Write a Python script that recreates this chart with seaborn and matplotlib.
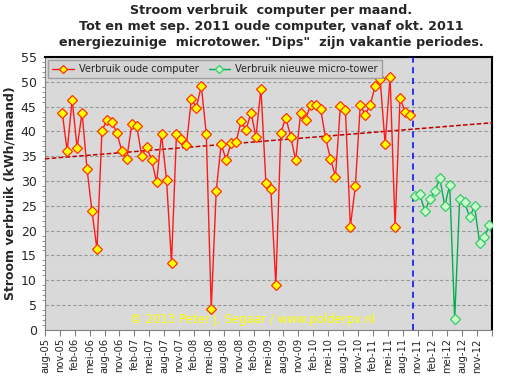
import numpy as np
import pandas as pd
import matplotlib
matplotlib.use("Agg")
import matplotlib.pyplot as plt
import seaborn as sns

# maandverbruik (kWh/maand), oude computer nov-05 t/m sep-11
oud_kwh = [43.8, 36.1, 46.4, 36.7, 43.8, 32.4, 23.9, 16.2, 40.1, 42.4,
           41.8, 39.7, 36.1, 34.5, 41.4, 41.1, 35.1, 36.9, 34.2, 29.8,
           39.4, 30.2, 13.5, 39.5, 38.5, 37.2, 46.6, 44.8, 49.2, 39.5,
           4.2, 28.0, 37.5, 34.2, 37.7, 37.9, 42.0, 40.3, 43.8, 38.9,
           48.6, 29.7, 28.4, 9.0, 39.7, 42.8, 38.9, 34.2, 43.8, 42.4,
           45.4, 45.4, 44.6, 38.7, 34.5, 30.9, 45.1, 44.4, 20.8, 28.9,
           45.4, 43.3, 45.4, 49.1, 50.5, 37.4, 51.0, 20.8, 46.8, 44.0,
           43.3]
# nieuwe micro-tower okt-11 t/m jan-13
nieuw_kwh = [26.9, 27.3, 23.9, 26.4, 27.9, 30.6, 25.0, 29.2, 2.2, 26.3,
             25.8, 22.7, 24.9, 17.6, 18.8, 21.1]

oud_start = 3      # nov-05, maanden na aug-05
nieuw_start = 74   # okt-11
tick_labels = ['aug-05', 'nov-05', 'feb-06', 'mei-06', 'aug-06', 'nov-06',
               'feb-07', 'mei-07', 'aug-07', 'nov-07', 'feb-08', 'mei-08',
               'aug-08', 'nov-08', 'feb-09', 'mei-09', 'aug-09', 'nov-09',
               'feb-10', 'mei-10', 'aug-10', 'nov-10', 'feb-11', 'mei-11',
               'aug-11', 'nov-11', 'feb-12', 'mei-12', 'aug-12', 'nov-12']

# data staat halverwege de maand
oud = pd.DataFrame({'maand': np.arange(len(oud_kwh)) + oud_start + 0.47, 'kwh': oud_kwh})
nieuw = pd.DataFrame({'maand': np.arange(len(nieuw_kwh)) + nieuw_start + 0.47, 'kwh': nieuw_kwh})

sns.set_style("white")
plt.rcParams['font.family'] = ['DejaVu Sans']

fig = plt.figure(figsize=(5.11, 3.80), dpi=100)
ax = fig.add_axes([0.088, 0.132, 0.875, 0.718])
ax.set_facecolor('#d9d9d9')

sns.lineplot(data=oud, x='maand', y='kwh', ax=ax, color='#ff1a1a', lw=1.0,
             marker='D', markersize=5.2, markerfacecolor='#ffff00',
             markeredgecolor='#ff3300', markeredgewidth=0.9,
             label='Verbruik oude computer', zorder=4)
sns.lineplot(data=nieuw, x='maand', y='kwh', ax=ax, color='#00b050', lw=1.0,
             marker='D', markersize=5.2, markerfacecolor='#ccffcc',
             markeredgecolor='#33cc66', markeredgewidth=0.9,
             label='Verbruik nieuwe micro-tower', zorder=4)

# lineaire trend van de oude computer over de hele as
coef = np.polyfit(oud['maand'], oud['kwh'], 1)
xt = np.array([0, 90])
ax.plot(xt, np.polyval(coef, xt), ls=(0, (3, 1.5)), color='#c00000', lw=1.1, zorder=3)

ax.axvline(nieuw_start, color='#0000ff', ls=(0, (4, 3)), lw=1.1, zorder=3)

ax.set_xlim(0, 90)
ax.set_ylim(0, 55)
ax.set_yticks(np.arange(0, 56, 5))
ax.set_yticks(np.arange(0, 56, 1), minor=True)
ax.set_xticks(np.arange(0, 91, 3))
ax.set_xticklabels(tick_labels + [''], rotation=90, fontsize=7.2)
ax.tick_params(axis='y', labelsize=9, length=4, color='#808080', pad=2)
ax.tick_params(axis='y', which='minor', length=2, color='#808080', left=True)
ax.tick_params(axis='x', length=4, color='#808080', bottom=True, pad=2)
ax.grid(axis='y', color='#999999', ls=(0, (3, 2)), lw=0.8)
ax.set_axisbelow(True)
ax.set_xlabel('')
ax.set_ylabel('Stroom verbruik (kWh/maand)', fontsize=9, fontweight='bold', labelpad=3)

for s in ['left', 'bottom']:
    ax.spines[s].set_color('#808080')
for s in ['top', 'right']:
    ax.spines[s].set_color('black')
    ax.spines[s].set_linewidth(1.5)

leg = ax.legend(loc='upper left', ncol=2, fontsize=7.1, frameon=True,
                fancybox=False, borderaxespad=0.2, handlelength=2.2,
                columnspacing=1.0, handletextpad=0.5,
                bbox_to_anchor=(0.003, 0.995))
leg.get_frame().set_facecolor('#d4d4d4')
leg.get_frame().set_edgecolor('#a0a0a0')
leg.get_frame().set_alpha(1)
for h in leg.legend_handles:
    h.set_markersize(4)

ax.text(0.465, 0.015, '\u00a9 2013 Peter J. Segaar / www.polderpv.nl',
        transform=ax.transAxes, ha='center', va='bottom', color='#ffff00', fontsize=8.5)

fig.text(0.53, 0.99, 'Stroom verbruik  computer per maand.\n'
         'Tot en met sep. 2011 oude computer, vanaf okt. 2011\n'
         'energiezuinige  microtower. "Dips"  zijn vakantie periodes.',
         ha='center', va='top', fontsize=9.2, fontweight='bold', linespacing=1.3)

fig.savefig('out.png', dpi=100)
